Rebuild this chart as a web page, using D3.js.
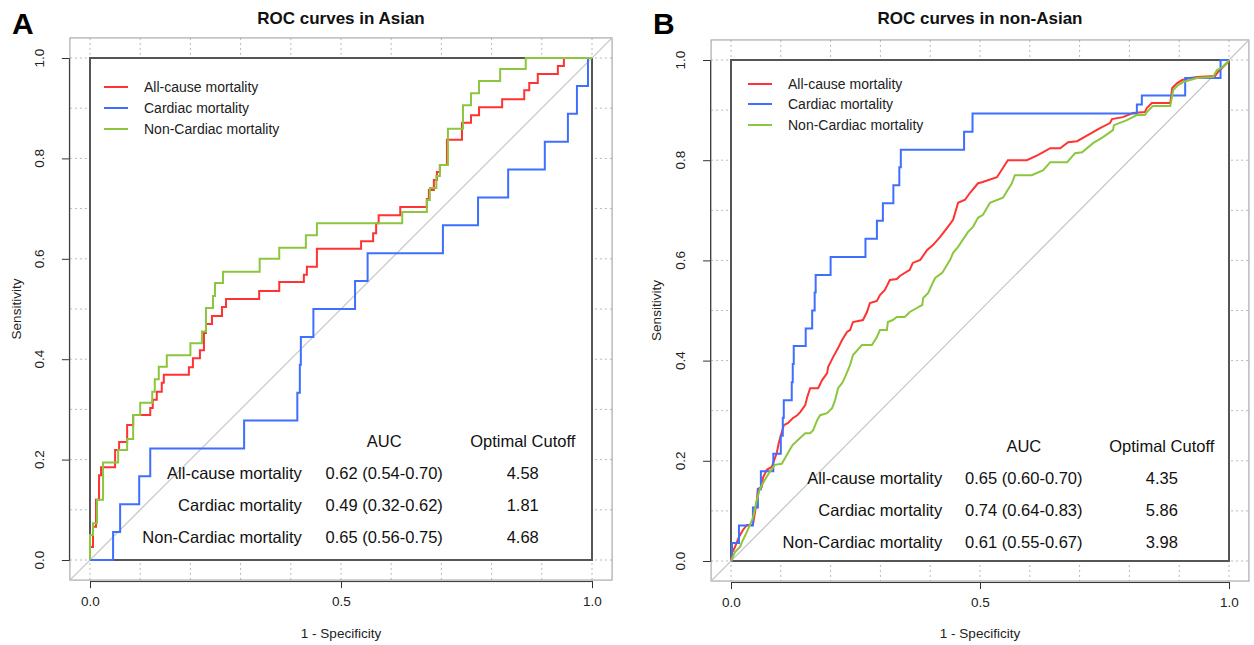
<!DOCTYPE html>
<html><head><meta charset="utf-8">
<script src="https://cdn.jsdelivr.net/npm/d3@7"></script>
<style>
html,body{margin:0;padding:0;background:#fff;}
svg{display:block;font-family:"Liberation Sans",Arial,sans-serif;}
</style></head>
<body>
<svg id="chart" width="1254" height="645"></svg>
<script>
// ---------- DATA ----------
const seriesNames = ["All-cause mortality", "Cardiac mortality", "Non-Cardiac mortality"];
const xTicks = [0, 0.5, 1];
const xTickLabels = ["0.0", "0.5", "1.0"];
const yTicks = [0, 0.2, 0.4, 0.6, 0.8, 1];
const yTickLabels = ["0.0", "0.2", "0.4", "0.6", "0.8", "1.0"];
const gridTicks = [0, 0.1, 0.2, 0.3, 0.4, 0.5, 0.6, 0.7, 0.8, 0.9, 1];
const panelTitles = ["ROC curves in Asian", "ROC curves in non-Asian"];
const panelLetters = ["A", "B"];
const tableHeaders = ["AUC", "Optimal Cutoff"];

const asianAUC = ["0.62 (0.54-0.70)", "0.49 (0.32-0.62)", "0.65 (0.56-0.75)"];
const asianCutoff = ["4.58", "1.81", "4.68"];
const nonAsianAUC = ["0.65 (0.60-0.70)", "0.74 (0.64-0.83)", "0.61 (0.55-0.67)"];
const nonAsianCutoff = ["4.35", "5.86", "3.98"];

// [1 - specificity, sensitivity]
const asianAllCause = [[0,0],[0,0.026],[0.006,0.066],[0.012,0.12],[0.018,0.169],[0.022,0.185],[0.05,0.219],[0.058,0.235],[0.074,0.269],[0.086,0.289],[0.12,0.303],[0.125,0.319],[0.133,0.335],[0.143,0.353],[0.147,0.369],[0.197,0.384],[0.205,0.402],[0.219,0.418],[0.227,0.452],[0.231,0.47],[0.243,0.486],[0.263,0.504],[0.271,0.52],[0.337,0.536],[0.377,0.554],[0.426,0.568],[0.432,0.584],[0.452,0.62],[0.54,0.635],[0.564,0.651],[0.57,0.671],[0.575,0.687],[0.618,0.703],[0.671,0.719],[0.675,0.737],[0.685,0.757],[0.691,0.773],[0.697,0.787],[0.711,0.837],[0.741,0.871],[0.759,0.886],[0.775,0.902],[0.821,0.918],[0.865,0.936],[0.875,0.95],[0.892,0.968],[0.932,0.984],[0.944,1.0],[1,1]];
const asianCardiac = [[0,0],[0.046,0.056],[0.06,0.111],[0.098,0.167],[0.12,0.222],[0.307,0.278],[0.413,0.333],[0.418,0.389],[0.42,0.444],[0.445,0.5],[0.528,0.556],[0.553,0.611],[0.703,0.667],[0.773,0.722],[0.833,0.778],[0.906,0.833],[0.952,0.889],[0.97,0.944],[0.992,1.0],[1,1]];
const asianNonCardiac = [[0,0],[0,0.05],[0.006,0.073],[0.014,0.12],[0.026,0.194],[0.056,0.219],[0.074,0.241],[0.086,0.289],[0.1,0.313],[0.124,0.335],[0.129,0.36],[0.137,0.385],[0.153,0.408],[0.2,0.432],[0.223,0.455],[0.231,0.502],[0.245,0.526],[0.249,0.552],[0.265,0.574],[0.338,0.6],[0.377,0.622],[0.43,0.647],[0.452,0.671],[0.622,0.693],[0.671,0.717],[0.677,0.741],[0.69,0.765],[0.697,0.787],[0.713,0.859],[0.743,0.906],[0.759,0.93],[0.775,0.954],[0.817,0.978],[0.868,1.0],[1,1]];

const nonAsianAllCause = [[0,0],[0.002,0.016],[0.008,0.028],[0.016,0.048],[0.024,0.062],[0.032,0.072],[0.044,0.072],[0.048,0.096],[0.052,0.122],[0.054,0.144],[0.062,0.148],[0.064,0.166],[0.072,0.182],[0.082,0.188],[0.092,0.216],[0.096,0.236],[0.106,0.271],[0.114,0.275],[0.124,0.285],[0.133,0.291],[0.139,0.297],[0.149,0.311],[0.153,0.327],[0.159,0.345],[0.175,0.345],[0.183,0.361],[0.193,0.375],[0.195,0.387],[0.205,0.407],[0.215,0.425],[0.223,0.441],[0.233,0.457],[0.239,0.461],[0.245,0.477],[0.265,0.481],[0.273,0.497],[0.279,0.515],[0.293,0.519],[0.299,0.531],[0.309,0.541],[0.319,0.561],[0.333,0.563],[0.339,0.569],[0.359,0.581],[0.365,0.595],[0.38,0.601],[0.394,0.621],[0.406,0.631],[0.42,0.647],[0.434,0.665],[0.446,0.681],[0.456,0.715],[0.47,0.721],[0.48,0.735],[0.496,0.754],[0.504,0.756],[0.534,0.766],[0.556,0.8],[0.594,0.8],[0.616,0.81],[0.627,0.816],[0.641,0.824],[0.661,0.824],[0.677,0.836],[0.695,0.838],[0.727,0.856],[0.741,0.864],[0.761,0.874],[0.765,0.882],[0.787,0.886],[0.807,0.894],[0.831,0.896],[0.835,0.904],[0.845,0.914],[0.882,0.914],[0.886,0.944],[0.896,0.954],[0.906,0.96],[0.922,0.964],[0.936,0.966],[0.972,0.968],[0.978,0.976],[0.988,0.986],[0.996,0.994],[1,1]];
const nonAsianCardiac = [[0,0],[0.002,0.036],[0.016,0.071],[0.044,0.107],[0.054,0.143],[0.06,0.179],[0.085,0.214],[0.1,0.25],[0.104,0.286],[0.106,0.321],[0.122,0.357],[0.124,0.393],[0.126,0.429],[0.15,0.464],[0.163,0.5],[0.168,0.536],[0.17,0.571],[0.2,0.607],[0.27,0.643],[0.293,0.679],[0.305,0.714],[0.326,0.75],[0.338,0.786],[0.341,0.821],[0.468,0.857],[0.485,0.893],[0.815,0.911],[0.825,0.929],[0.912,0.964],[0.983,1.0],[1,1]];
const nonAsianNonCardiac = [[0,0],[0.008,0.018],[0.018,0.028],[0.024,0.042],[0.032,0.058],[0.038,0.072],[0.044,0.086],[0.052,0.122],[0.058,0.144],[0.068,0.162],[0.078,0.178],[0.088,0.192],[0.102,0.194],[0.118,0.222],[0.124,0.232],[0.135,0.242],[0.149,0.255],[0.159,0.255],[0.165,0.261],[0.173,0.281],[0.179,0.291],[0.193,0.295],[0.203,0.305],[0.209,0.321],[0.215,0.345],[0.223,0.355],[0.229,0.367],[0.239,0.391],[0.245,0.411],[0.263,0.431],[0.283,0.431],[0.293,0.447],[0.299,0.461],[0.313,0.461],[0.315,0.477],[0.325,0.481],[0.333,0.487],[0.349,0.487],[0.359,0.497],[0.373,0.505],[0.384,0.511],[0.386,0.525],[0.396,0.535],[0.406,0.557],[0.41,0.565],[0.424,0.575],[0.43,0.585],[0.44,0.601],[0.446,0.615],[0.456,0.627],[0.476,0.657],[0.486,0.667],[0.496,0.685],[0.506,0.691],[0.52,0.715],[0.546,0.725],[0.564,0.754],[0.57,0.77],[0.604,0.77],[0.627,0.78],[0.641,0.796],[0.675,0.796],[0.691,0.814],[0.705,0.816],[0.727,0.834],[0.747,0.846],[0.767,0.86],[0.769,0.87],[0.795,0.88],[0.815,0.89],[0.831,0.89],[0.835,0.896],[0.847,0.908],[0.882,0.908],[0.888,0.94],[0.898,0.95],[0.908,0.956],[0.936,0.964],[0.968,0.966],[0.976,0.98],[0.988,0.986],[0.996,0.994],[1,1]];

// ---------- STYLE / LAYOUT ----------
const colors = ["#FF3333", "#3F6FFF", "#8CC63F"];
const svg = d3.select("#chart");

const panels = [
  {
    letter: panelLetters[0], title: panelTitles[0],
    xr: [90, 592], yr: [560, 58],
    series: [asianAllCause, asianCardiac, asianNonCardiac],
    curves: [d3.curveStepAfter, d3.curveStepAfter, d3.curveStepAfter],
    auc: asianAUC, cutoff: asianCutoff,
    legend: {x1: 104, x2: 128, tx: 144, y: [87, 108, 129]},
    table: {labelX: 0.422, aucX: 0.586, cutX: 0.862, headY: 0.237, rowY: [0.173, 0.109, 0.046]},
    ylabX: 17, yTickLabX: 44
  },
  {
    letter: panelLetters[1], title: panelTitles[1],
    xr: [731, 1229], yr: [561, 60],
    series: [nonAsianAllCause, nonAsianCardiac, nonAsianNonCardiac],
    curves: [d3.curveLinear, d3.curveStepAfter, d3.curveLinear],
    auc: nonAsianAUC, cutoff: nonAsianCutoff,
    legend: {x1: 748, x2: 772, tx: 788, y: [84, 104, 125]},
    table: {labelX: 0.424, aucX: 0.588, cutX: 0.865, headY: 0.23, rowY: [0.166, 0.102, 0.038]},
    ylabX: 657, yTickLabX: 685
  }
];

panels.forEach((p, pi) => {
  const x = d3.scaleLinear().domain([0, 1]).range(p.xr);
  const y = d3.scaleLinear().domain([0, 1]).range(p.yr);
  const ox0 = x(-0.04), ox1 = x(1.04), oy0 = y(-0.04), oy1 = y(1.04);
  const g = svg.append("g");

  const clipId = "clip" + pi;
  svg.append("clipPath").attr("id", clipId).append("rect")
    .attr("x", ox0).attr("y", oy1).attr("width", ox1 - ox0).attr("height", oy0 - oy1);

  // grid
  const grid = g.append("g").attr("clip-path", `url(#${clipId})`);
  grid.selectAll(".gv").data(gridTicks).join("line")
    .attr("x1", d => x(d)).attr("x2", d => x(d)).attr("y1", oy1).attr("y2", oy0)
    .attr("stroke", "#b8b8b8").attr("stroke-width", 1).attr("stroke-dasharray", "2,3");
  grid.selectAll(".gh").data(gridTicks).join("line")
    .attr("y1", d => y(d)).attr("y2", d => y(d)).attr("x1", ox0).attr("x2", ox1)
    .attr("stroke", "#b8b8b8").attr("stroke-width", 1).attr("stroke-dasharray", "2,3");

  // outer frame
  g.append("rect").attr("x", ox0).attr("y", oy1).attr("width", ox1 - ox0).attr("height", oy0 - oy1)
    .attr("fill", "none").attr("stroke", "#9a9a9a").attr("stroke-width", 1);

  // inner box
  g.append("rect").attr("x", x(0)).attr("y", y(1)).attr("width", x(1) - x(0)).attr("height", y(0) - y(1))
    .attr("fill", "#fff").attr("stroke", "#555").attr("stroke-width", 2);

  // diagonal
  g.append("line").attr("clip-path", `url(#${clipId})`)
    .attr("x1", x(-0.04)).attr("y1", y(-0.04)).attr("x2", x(1.04)).attr("y2", y(1.04))
    .attr("stroke", "#c4c4c4").attr("stroke-width", 1.2);

  // axes
  const xAxis = d3.axisBottom(x).tickValues(xTicks).tickFormat((d, i) => xTickLabels[i]).tickSize(7).tickPadding(8);
  const xa = g.append("g").attr("transform", `translate(0,${oy0 + 1})`).call(xAxis);
  xa.select(".domain").attr("stroke", "#333");
  xa.selectAll(".tick line").attr("stroke", "#333");
  xa.selectAll("text").attr("font-size", 13.5).attr("fill", "#222").attr("font-family", "Liberation Sans, Arial");

  const yAxis = d3.axisLeft(y).tickValues(yTicks).tickFormat((d, i) => yTickLabels[i]).tickSize(7);
  const ya = g.append("g").attr("transform", `translate(${ox0 - 1},0)`).call(yAxis);
  ya.select(".domain").attr("stroke", "#333");
  ya.selectAll(".tick line").attr("stroke", "#333");
  ya.selectAll("text").remove();
  g.selectAll(".ylab").data(yTicks).join("text")
    .attr("transform", (d) => `translate(${p.yTickLabX},${y(d)}) rotate(-90)`)
    .attr("text-anchor", "middle").attr("font-size", 13.5).attr("fill", "#222")
    .text((d, i) => yTickLabels[i]);

  // axis titles
  g.append("text").attr("x", x(0.5)).attr("y", 638).attr("text-anchor", "middle")
    .attr("font-size", 13.5).attr("fill", "#222").text("1 - Specificity");
  g.append("text").attr("transform", `translate(${p.ylabX + 4},${y(0.5)}) rotate(-90)`)
    .attr("text-anchor", "middle").attr("font-size", 13.5).attr("fill", "#222").text("Sensitivity");

  // title & letter
  g.append("text").attr("x", x(0.5)).attr("y", 24).attr("text-anchor", "middle")
    .attr("font-size", 17).attr("font-weight", "bold").attr("fill", "#111").text(p.title);
  g.append("text").attr("x", p.xr[0] - 78).attr("y", 34)
    .attr("font-size", 30).attr("font-weight", "bold").attr("fill", "#000").text(p.letter);

  // curves
  p.series.forEach((s, si) => {
    const line = d3.line().x(d => x(d[0])).y(d => y(d[1])).curve(p.curves[si]);
    g.append("path").datum(s).attr("d", line).attr("fill", "none")
      .attr("stroke", colors[si]).attr("stroke-width", 2).attr("stroke-linejoin", "miter");
  });

  // legend
  seriesNames.forEach((n, i) => {
    g.append("line").attr("x1", p.legend.x1).attr("x2", p.legend.x2)
      .attr("y1", p.legend.y[i]).attr("y2", p.legend.y[i])
      .attr("stroke", colors[i]).attr("stroke-width", 2);
    g.append("text").attr("x", p.legend.tx).attr("y", p.legend.y[i] + 5)
      .attr("font-size", 14).attr("fill", "#222").text(n);
  });

  // table
  const t = p.table, fs = 16.5;
  g.append("text").attr("x", x(t.aucX)).attr("y", y(t.headY) + fs * 0.36).attr("text-anchor", "middle")
    .attr("font-size", fs).attr("fill", "#111").text(tableHeaders[0]);
  g.append("text").attr("x", x(t.cutX)).attr("y", y(t.headY) + fs * 0.36).attr("text-anchor", "middle")
    .attr("font-size", fs).attr("fill", "#111").text(tableHeaders[1]);
  seriesNames.forEach((n, i) => {
    const yy = y(t.rowY[i]) + fs * 0.36;
    g.append("text").attr("x", x(t.labelX)).attr("y", yy).attr("text-anchor", "end")
      .attr("font-size", fs).attr("fill", "#111").text(n);
    g.append("text").attr("x", x(t.aucX)).attr("y", yy).attr("text-anchor", "middle")
      .attr("font-size", fs).attr("fill", "#111").text(p.auc[i]);
    g.append("text").attr("x", x(t.cutX)).attr("y", yy).attr("text-anchor", "middle")
      .attr("font-size", fs).attr("fill", "#111").text(p.cutoff[i]);
  });
});
</script>
</body></html>
